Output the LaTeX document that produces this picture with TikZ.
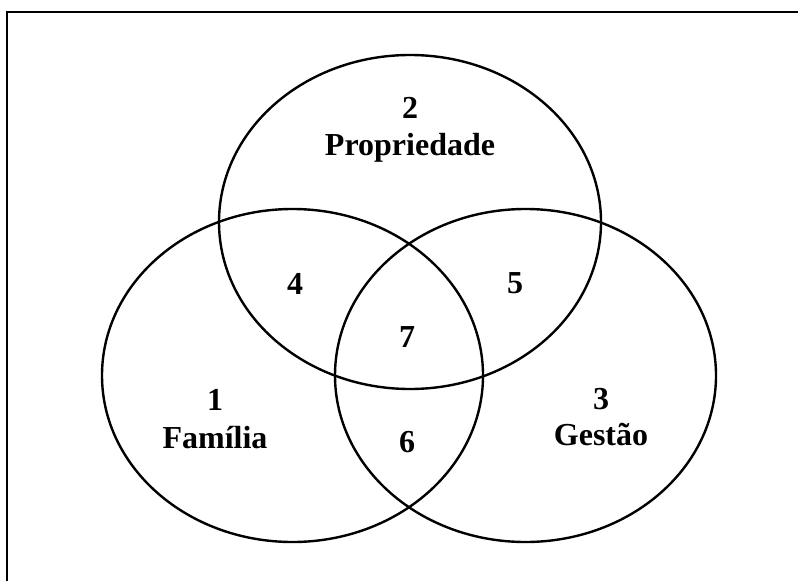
\documentclass[tikz,border=0pt]{standalone}
\usepackage{fontspec}
\setmainfont{Liberation Serif}
\usepackage{tikz}

\begin{document}
\begin{tikzpicture}[x=0.75pt, y=-0.75pt, line width=1.8pt,
    lbl/.style={anchor=base, inner sep=0pt, font=\fontsize{24}{28}\selectfont\bfseries}]
  \useasboundingbox (0,0) rectangle (798,581);
  \draw[line width=1.8pt] (7,581) -- (7,12) -- (798,12);
  % the three sets
  \draw (410,222) ellipse [x radius=191, y radius=167];
  \draw (292.5,375.5) ellipse [x radius=190.5, y radius=166.5];
  \draw (525.5,375.5) ellipse [x radius=190.5, y radius=166.5];
  \node[lbl] (n2) at (410,118) {2};
  \node[lbl] (prop) at (410,155) {Propriedade};
  \node[lbl] (n1) at (215,410) {1};
  \node[lbl] (fam) at (215,448) {Família};
  \node[lbl] (n3) at (601,409) {3};
  \node[lbl] (gest) at (601,445) {Gestão};
  \node[lbl] (n4) at (295,294) {4};
  \node[lbl] (n5) at (515,293) {5};
  \node[lbl] (n7) at (407,347) {7};
  \node[lbl] (n6) at (407,452) {6};
\end{tikzpicture}
\end{document}
